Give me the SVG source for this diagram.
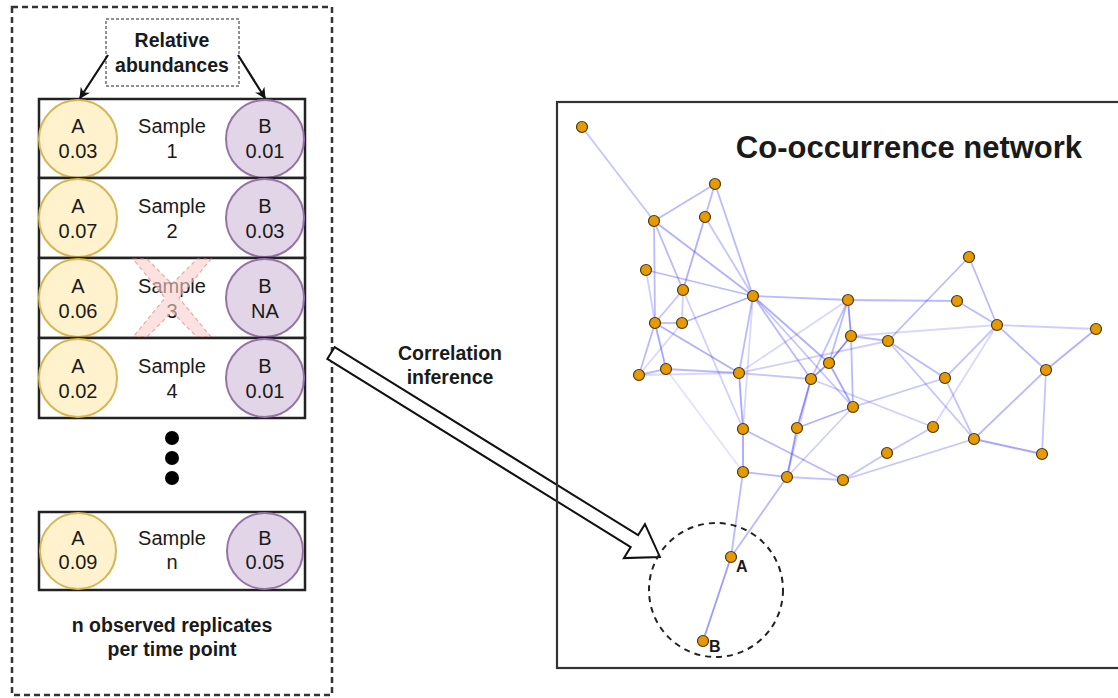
<svg xmlns="http://www.w3.org/2000/svg" width="1118" height="698" viewBox="0 0 1118 698">
<style>
text{font-family:"Liberation Sans",Arial,sans-serif;fill:#1a1a1a}
.t{font-size:20px;text-anchor:middle}
.b{font-size:19.5px;font-weight:bold;text-anchor:middle}
.row{fill:#fff;stroke:#222;stroke-width:2.5}
.ca{fill:#fff2cc;stroke:#d6b656;stroke-width:2}
.cb{fill:#e1d5e7;stroke:#9673a6;stroke-width:2}
.nd{fill:#e69a00;stroke:#4a3a1a;stroke-width:1.2}
.e{stroke:#3a3aff;stroke-width:1.8;fill:none}
</style>
<defs>
<marker id="ah" viewBox="0 0 10 10" refX="9" refY="5" markerWidth="11" markerHeight="11" orient="auto" markerUnits="userSpaceOnUse">
<path d="M0,0 L10,5 L0,10 L3,5 Z" fill="#111"/>
</marker>
</defs>
<rect width="1118" height="698" fill="#fff"/>

<g id="left-panel">
<rect x="12" y="7" width="320" height="688" fill="none" stroke="#333" stroke-width="2.5" stroke-dasharray="6,4"/>
</g>

<g id="label-relative">
<rect x="106" y="19" width="133" height="67" fill="#fff" stroke="#222" stroke-width="1" stroke-dasharray="3,2"/>
<text class="b" x="172" y="47">Relative</text>
<text class="b" x="172" y="72">abundances</text>
</g>

<g id="sample1">
<rect class="row" x="39" y="99" width="266" height="79"/>
<circle class="ca" cx="78" cy="139" r="39"/>
<circle class="cb" cx="265" cy="139" r="39"/>
<text class="t" x="78" y="133">A</text><text class="t" x="78" y="158">0.03</text>
<text class="t" x="172" y="133">Sample</text><text class="t" x="172" y="158">1</text>
<text class="t" x="265" y="133">B</text><text class="t" x="265" y="158">0.01</text>
</g>
<g id="sample2">
<rect class="row" x="39" y="178" width="266" height="80"/>
<circle class="ca" cx="78" cy="218" r="39"/>
<circle class="cb" cx="265" cy="218" r="39"/>
<text class="t" x="78" y="213">A</text><text class="t" x="78" y="238">0.07</text>
<text class="t" x="172" y="213">Sample</text><text class="t" x="172" y="238">2</text>
<text class="t" x="265" y="213">B</text><text class="t" x="265" y="238">0.03</text>
</g>
<g id="sample3">
<rect class="row" x="39" y="258" width="266" height="80"/>
<circle class="ca" cx="78" cy="298" r="39"/>
<circle class="cb" cx="265" cy="298" r="39"/>
<text class="t" x="78" y="293">A</text><text class="t" x="78" y="318">0.06</text>
<text class="t" x="172" y="293">Sample</text><text class="t" x="172" y="318">3</text>
<text class="t" x="265" y="293">B</text><text class="t" x="265" y="318">NA</text>
<path d="M133,259 L147,259 L172,284 L197,259 L211,259 L179,298 L211,337 L197,337 L172,312 L147,337 L133,337 L165,298 Z" fill="#f8cecc" fill-opacity="0.6" stroke="#e58a87" stroke-opacity="0.7" stroke-width="1.2" stroke-dasharray="4,3"/>
</g>
<g id="sample4">
<rect class="row" x="39" y="338" width="266" height="80"/>
<circle class="ca" cx="78" cy="378" r="39"/>
<circle class="cb" cx="265" cy="378" r="39"/>
<text class="t" x="78" y="373">A</text><text class="t" x="78" y="398">0.02</text>
<text class="t" x="172" y="373">Sample</text><text class="t" x="172" y="398">4</text>
<text class="t" x="265" y="373">B</text><text class="t" x="265" y="398">0.01</text>
</g>
<g id="ellipsis">
<circle cx="172" cy="438" r="7" fill="#000"/>
<circle cx="172" cy="458" r="7" fill="#000"/>
<circle cx="172" cy="478" r="7" fill="#000"/>
</g>
<g id="sampleN">
<rect class="row" x="39" y="512" width="266" height="78"/>
<circle class="ca" cx="78" cy="551" r="38"/>
<circle class="cb" cx="265" cy="551" r="38"/>
<text class="t" x="78" y="545">A</text><text class="t" x="78" y="569">0.09</text>
<text class="t" x="172" y="545">Sample</text><text class="t" x="172" y="569">n</text>
<text class="t" x="265" y="545">B</text><text class="t" x="265" y="569">0.05</text>
</g>
<g id="caption-left">
<text class="b" x="172" y="632">n observed replicates</text>
<text class="b" x="172" y="656">per time point</text>
</g>

<g id="arrow-label">
<text class="b" x="450" y="360">Correlation</text>
<text class="b" x="450" y="384">inference</text>
</g>

<g id="big-arrow">
<path transform="translate(331,353) rotate(31.8)" d="M0,-7 L357,-7 L357,-20 L387,0 L357,20 L357,7 L0,7 Z" fill="#fff" stroke="#111" stroke-width="2" stroke-linejoin="miter"/>
</g>

<g id="network-box">
<rect x="557" y="102" width="580" height="566" fill="none" stroke="#333" stroke-width="2.2"/>
<text x="909" y="158" style="font-size:31px;font-weight:bold;text-anchor:middle">Co-occurrence network</text>
</g>

<g id="connectors">
<path d="M108,55 L80,98" stroke="#111" stroke-width="2.2" marker-end="url(#ah)"/>
<path d="M238,55 L265,98" stroke="#111" stroke-width="2.2" marker-end="url(#ah)"/>
<g class="e">
<line x1="582" y1="127" x2="654" y2="221" stroke-opacity=".3"/>
<line x1="654" y1="221" x2="715" y2="184" stroke-opacity=".35"/>
<line x1="654" y1="221" x2="655" y2="323" stroke-opacity=".35"/>
<line x1="654" y1="221" x2="683" y2="290" stroke-opacity=".35"/>
<line x1="654" y1="221" x2="753" y2="296" stroke-opacity=".4"/>
<line x1="646" y1="270" x2="655" y2="323" stroke-opacity=".25"/>
<line x1="646" y1="270" x2="753" y2="296" stroke-opacity=".35"/>
<line x1="715" y1="184" x2="705" y2="217" stroke-opacity=".35"/>
<line x1="715" y1="184" x2="753" y2="296" stroke-opacity=".35"/>
<line x1="705" y1="217" x2="683" y2="290" stroke-opacity=".4"/>
<line x1="705" y1="217" x2="753" y2="296" stroke-opacity=".3"/>
<line x1="683" y1="290" x2="655" y2="323" stroke-opacity=".3"/>
<line x1="683" y1="290" x2="682" y2="323" stroke-opacity=".25"/>
<line x1="683" y1="290" x2="743" y2="429" stroke-opacity=".25"/>
<line x1="655" y1="323" x2="682" y2="323" stroke-opacity=".35"/>
<line x1="655" y1="323" x2="639" y2="375" stroke-opacity=".35"/>
<line x1="655" y1="323" x2="666" y2="369" stroke-opacity=".45"/>
<line x1="655" y1="323" x2="739" y2="373" stroke-opacity=".4"/>
<line x1="682" y1="323" x2="753" y2="296" stroke-opacity=".4"/>
<line x1="682" y1="323" x2="639" y2="375" stroke-opacity=".2"/>
<line x1="639" y1="375" x2="666" y2="369" stroke-opacity=".35"/>
<line x1="666" y1="369" x2="739" y2="373" stroke-opacity=".35"/>
<line x1="639" y1="375" x2="739" y2="373" stroke-opacity=".2"/>
<line x1="666" y1="369" x2="743" y2="472" stroke-opacity=".15"/>
<line x1="753" y1="296" x2="848" y2="300" stroke-opacity=".35"/>
<line x1="753" y1="296" x2="739" y2="373" stroke-opacity=".35"/>
<line x1="753" y1="296" x2="811" y2="379" stroke-opacity=".35"/>
<line x1="753" y1="296" x2="829" y2="363" stroke-opacity=".4"/>
<line x1="753" y1="296" x2="853" y2="407" stroke-opacity=".3"/>
<line x1="753" y1="296" x2="743" y2="429" stroke-opacity=".2"/>
<line x1="848" y1="300" x2="957" y2="301" stroke-opacity=".35"/>
<line x1="848" y1="300" x2="851" y2="336" stroke-opacity=".55"/>
<line x1="848" y1="300" x2="829" y2="363" stroke-opacity=".35"/>
<line x1="848" y1="300" x2="811" y2="379" stroke-opacity=".3"/>
<line x1="848" y1="300" x2="739" y2="373" stroke-opacity=".2"/>
<line x1="851" y1="336" x2="888" y2="341" stroke-opacity=".35"/>
<line x1="851" y1="336" x2="829" y2="363" stroke-opacity=".6"/>
<line x1="851" y1="336" x2="853" y2="407" stroke-opacity=".35"/>
<line x1="851" y1="336" x2="997" y2="325" stroke-opacity=".2"/>
<line x1="888" y1="341" x2="969" y2="257" stroke-opacity=".35"/>
<line x1="888" y1="341" x2="945" y2="378" stroke-opacity=".35"/>
<line x1="888" y1="341" x2="974" y2="439" stroke-opacity=".3"/>
<line x1="739" y1="373" x2="888" y2="341" stroke-opacity=".25"/>
<line x1="739" y1="373" x2="811" y2="379" stroke-opacity=".3"/>
<line x1="829" y1="363" x2="811" y2="379" stroke-opacity=".5"/>
<line x1="829" y1="363" x2="853" y2="407" stroke-opacity=".45"/>
<line x1="811" y1="379" x2="797" y2="428" stroke-opacity=".55"/>
<line x1="811" y1="379" x2="787" y2="477" stroke-opacity=".2"/>
<line x1="811" y1="379" x2="933" y2="427" stroke-opacity=".25"/>
<line x1="853" y1="407" x2="797" y2="428" stroke-opacity=".4"/>
<line x1="853" y1="407" x2="945" y2="378" stroke-opacity=".3"/>
<line x1="853" y1="407" x2="787" y2="477" stroke-opacity=".25"/>
<line x1="739" y1="373" x2="743" y2="429" stroke-opacity=".45"/>
<line x1="743" y1="429" x2="743" y2="472" stroke-opacity=".45"/>
<line x1="743" y1="429" x2="843" y2="480" stroke-opacity=".35"/>
<line x1="797" y1="428" x2="787" y2="477" stroke-opacity=".5"/>
<line x1="743" y1="472" x2="787" y2="477" stroke-opacity=".35"/>
<line x1="787" y1="477" x2="843" y2="480" stroke-opacity=".3"/>
<line x1="787" y1="477" x2="731" y2="557" stroke-opacity=".35"/>
<line x1="743" y1="472" x2="731" y2="557" stroke-opacity=".35"/>
<line x1="843" y1="480" x2="887" y2="453" stroke-opacity=".3"/>
<line x1="843" y1="480" x2="974" y2="439" stroke-opacity=".3"/>
<line x1="887" y1="453" x2="933" y2="427" stroke-opacity=".3"/>
<line x1="933" y1="427" x2="997" y2="325" stroke-opacity=".2"/>
<line x1="945" y1="378" x2="997" y2="325" stroke-opacity=".3"/>
<line x1="945" y1="378" x2="974" y2="439" stroke-opacity=".3"/>
<line x1="997" y1="325" x2="969" y2="257" stroke-opacity=".35"/>
<line x1="997" y1="325" x2="957" y2="301" stroke-opacity=".35"/>
<line x1="997" y1="325" x2="1096" y2="329" stroke-opacity=".25"/>
<line x1="997" y1="325" x2="1046" y2="370" stroke-opacity=".35"/>
<line x1="1046" y1="370" x2="1096" y2="329" stroke-opacity=".4"/>
<line x1="1046" y1="370" x2="974" y2="439" stroke-opacity=".35"/>
<line x1="1046" y1="370" x2="1042" y2="454" stroke-opacity=".3"/>
<line x1="974" y1="439" x2="1042" y2="454" stroke-opacity=".45"/>
<line x1="731" y1="557" x2="703" y2="641" stroke-opacity=".5"/>
</g>
</g>

<g id="network-nodes">
<circle class="nd" cx="582" cy="127" r="5.5"/>
<circle class="nd" cx="715" cy="184" r="5.5"/>
<circle class="nd" cx="654" cy="221" r="5.5"/>
<circle class="nd" cx="705" cy="217" r="5.5"/>
<circle class="nd" cx="646" cy="270" r="5.5"/>
<circle class="nd" cx="683" cy="290" r="5.5"/>
<circle class="nd" cx="753" cy="296" r="5.5"/>
<circle class="nd" cx="848" cy="300" r="5.5"/>
<circle class="nd" cx="655" cy="323" r="5.5"/>
<circle class="nd" cx="682" cy="323" r="5.5"/>
<circle class="nd" cx="851" cy="336" r="5.5"/>
<circle class="nd" cx="888" cy="341" r="5.5"/>
<circle class="nd" cx="829" cy="363" r="5.5"/>
<circle class="nd" cx="811" cy="379" r="5.5"/>
<circle class="nd" cx="853" cy="407" r="5.5"/>
<circle class="nd" cx="639" cy="375" r="5.5"/>
<circle class="nd" cx="666" cy="369" r="5.5"/>
<circle class="nd" cx="739" cy="373" r="5.5"/>
<circle class="nd" cx="743" cy="429" r="5.5"/>
<circle class="nd" cx="797" cy="428" r="5.5"/>
<circle class="nd" cx="743" cy="472" r="5.5"/>
<circle class="nd" cx="787" cy="477" r="5.5"/>
<circle class="nd" cx="843" cy="480" r="5.5"/>
<circle class="nd" cx="969" cy="257" r="5.5"/>
<circle class="nd" cx="957" cy="301" r="5.5"/>
<circle class="nd" cx="997" cy="325" r="5.5"/>
<circle class="nd" cx="1096" cy="329" r="5.5"/>
<circle class="nd" cx="945" cy="378" r="5.5"/>
<circle class="nd" cx="1046" cy="370" r="5.5"/>
<circle class="nd" cx="933" cy="427" r="5.5"/>
<circle class="nd" cx="974" cy="439" r="5.5"/>
<circle class="nd" cx="1042" cy="454" r="5.5"/>
<circle class="nd" cx="887" cy="453" r="5.5"/>
</g>

<g id="highlight-AB">
<circle cx="716" cy="590" r="67" fill="none" stroke="#222" stroke-width="2" stroke-dasharray="6,5"/>
<circle class="nd" cx="731" cy="557" r="5.5"/>
<circle class="nd" cx="703" cy="641" r="5.5"/>
<text x="736" y="572" style="font-size:16px;font-weight:bold">A</text>
<text x="709" y="652" style="font-size:16px;font-weight:bold">B</text>
</g>
</svg>
